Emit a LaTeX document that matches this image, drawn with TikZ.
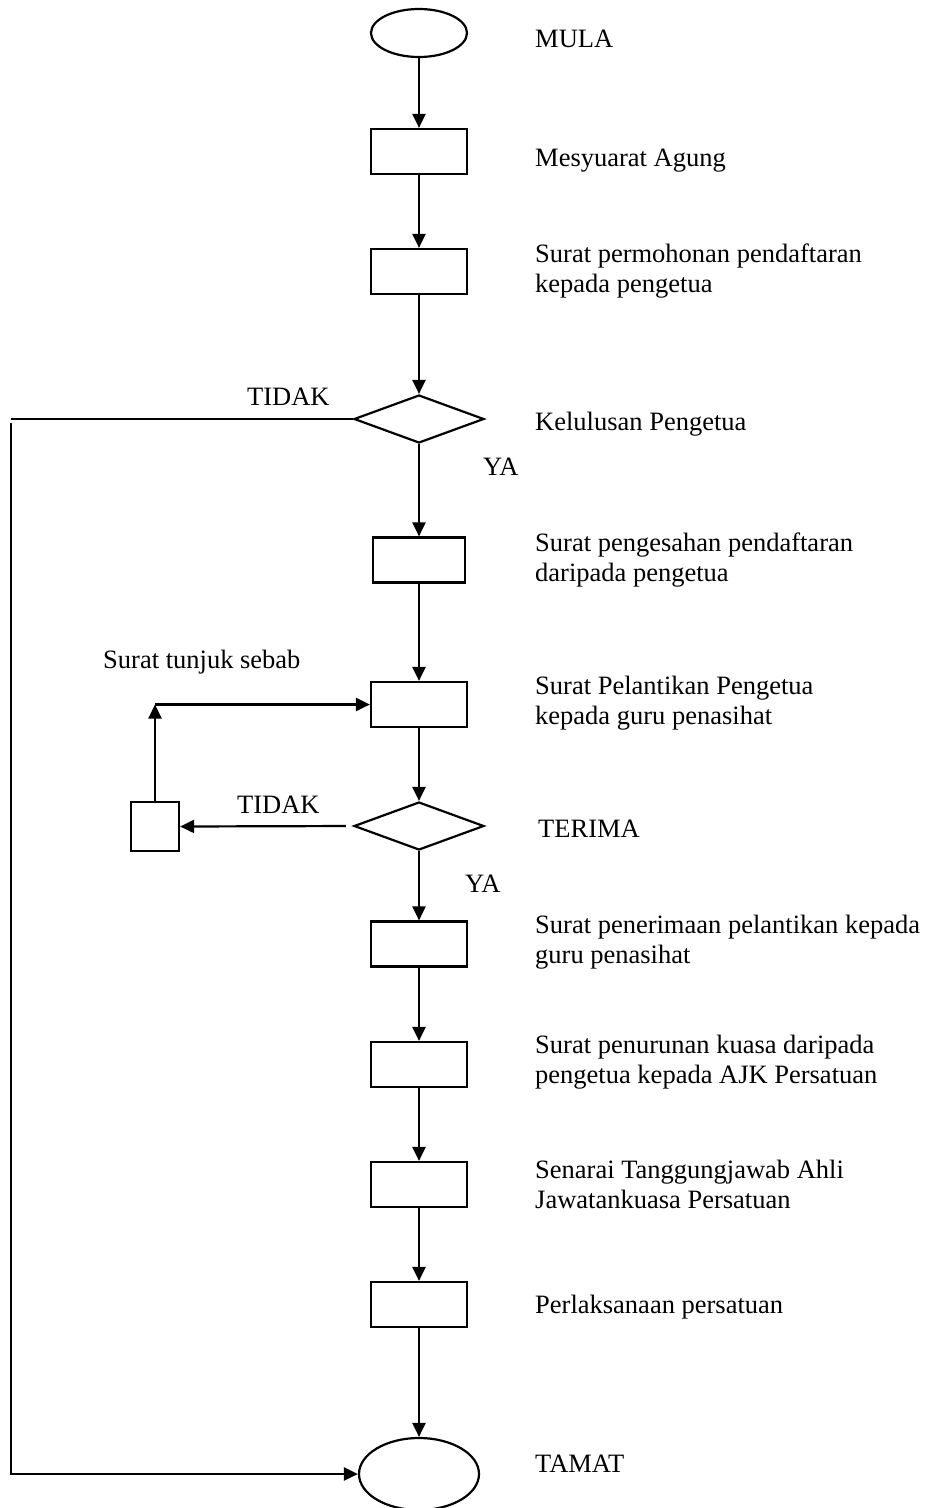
\documentclass[tikz,border=0pt]{standalone}
\usepackage{fontspec}
\setmainfont{Liberation Serif}
\usetikzlibrary{shapes.geometric,arrows.meta}
\begin{document}
\begin{tikzpicture}[x=1pt,y=-1pt,
  every node/.style={font=\fontsize{26.5}{30}\selectfont},
  stepbox/.style={draw,line width=2.2pt,rectangle,minimum width=96pt,minimum height=45pt,inner sep=0pt},
  termbox/.style={draw,line width=2.2pt,ellipse,inner sep=0pt},
  decbox/.style={draw,line width=2.2pt,diamond,minimum width=130pt,minimum height=48pt,inner sep=0pt},
  lbl/.style={anchor=base west,inner sep=0pt},
  flow/.style={line width=2.2pt,-{Triangle[length=14pt,width=13pt]}},
  plain/.style={line width=2.2pt}]
\useasboundingbox (0,0) rectangle (929,1508);

% main column
\node[termbox,minimum width=96pt,minimum height=48pt] (mula) at (419,33) {};
\node[stepbox] (b1) at (419,151.5) {};
\node[stepbox] (b2) at (419,271.5) {};
\node[decbox] (d1) at (419,419) {};
\node[stepbox,minimum width=92pt] (b3) at (419,560) {};
\node[stepbox] (b4) at (419,704.5) {};
\node[decbox] (d2) at (419,826) {};
\node[stepbox] (b5) at (419,944) {};
\node[stepbox] (b6) at (419,1064.5) {};
\node[stepbox] (b7) at (419,1184.5) {};
\node[stepbox] (b8) at (419,1304.5) {};
\node[termbox,minimum width=120pt,minimum height=72pt] (tamat) at (419,1474) {};

% side box for the rejected appointment
\node[stepbox,minimum width=48pt,minimum height=49pt] (sb) at (155,826.5) {};

% connectors
\draw[flow] (mula) -- (b1);
\draw[flow] (b1) -- (b2);
\draw[flow] (b2) -- (d1);
\draw[flow] (d1) -- (b3);
\draw[flow] (b3) -- (b4);
\draw[flow] (b4) -- (d2);
\draw[flow] (d2) -- (b5);
\draw[flow] (b5) -- (b6);
\draw[flow] (b6) -- (b7);
\draw[flow] (b7) -- (b8);
\draw[flow] (b8) -- (tamat);

\coordinate (l1) at (11,419);
\coordinate (l2) at (11,1474);
\draw[plain] (d1.west) -- (l1);
\draw[flow] (11,423) -- (l2) -- (tamat.west);

\draw[flow,shorten <=7pt] (d2.west) -- (sb.east);
\coordinate (sbup) at (sb.north |- b4.west);
\draw[flow] (sb.north) -- (sbup);
\draw[flow] (sbup) -- (b4.west);

% labels
\node[lbl] (tmula) at (535,47) {MULA};
\node[lbl] (tb1) at (535,166) {Mesyuarat Agung};
\node[lbl] (tb2) at (535,262) {\vtop{\hbox{Surat permohonan pendaftaran}\hbox{kepada pengetua}}};
\node[lbl] (td1) at (535,430) {Kelulusan Pengetua};
\node[lbl] (tno1) at (247,405) {TIDAK};
\node[lbl] (tya1) at (483,475) {YA};
\node[lbl] (tb3) at (535,551) {\vtop{\hbox{Surat pengesahan pendaftaran}\hbox{daripada pengetua}}};
\node[lbl] (tsb) at (103,668) {Surat tunjuk sebab};
\node[lbl] (tb4) at (535,694) {\vtop{\hbox{Surat Pelantikan Pengetua}\hbox{kepada guru penasihat}}};
\node[lbl] (tno2) at (237,813) {TIDAK};
\node[lbl] (td2) at (538,837) {TERIMA};
\node[lbl] (tya2) at (465,892) {YA};
\node[lbl] (tb5) at (535,933) {\vtop{\hbox{Surat penerimaan pelantikan kepada}\hbox{guru penasihat}}};
\node[lbl] (tb6) at (535,1053) {\vtop{\hbox{Surat penurunan kuasa daripada}\hbox{pengetua kepada AJK Persatuan}}};
\node[lbl] (tb7) at (535,1178) {\vtop{\hbox{Senarai Tanggungjawab Ahli}\hbox{Jawatankuasa Persatuan}}};
\node[lbl] (tb8) at (535,1313) {Perlaksanaan persatuan};
\node[lbl] (ttamat) at (535,1472) {TAMAT};
\end{tikzpicture}
\end{document}
